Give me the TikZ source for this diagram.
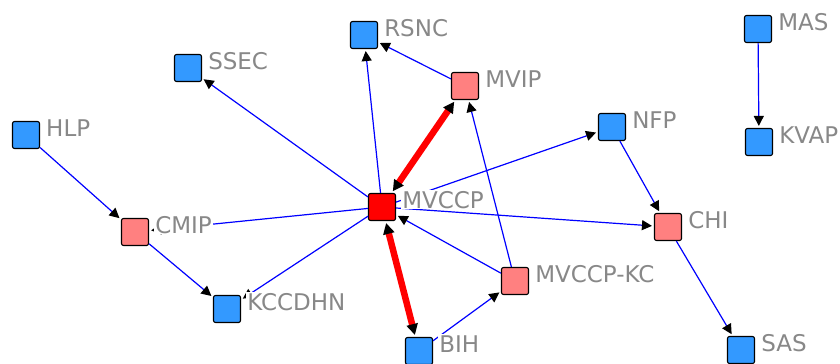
\documentclass[tikz,border=0pt]{standalone}
\usepackage{fontspec}
\setmainfont{DejaVu Sans}
\usetikzlibrary{arrows.meta}
\definecolor{nblue}{RGB}{51,153,255}
\definecolor{npink}{RGB}{255,128,128}
\definecolor{nred}{RGB}{255,0,0}
\definecolor{ltext}{RGB}{136,136,136}
\definecolor{eblue}{RGB}{0,0,255}
\tikzset{
  vbox/.style={draw=black, line width=1.1bp, rounded corners=2bp, minimum size=27bp, inner sep=0pt},
  bluebox/.style={vbox, fill=nblue},
  pinkbox/.style={vbox, fill=npink},
  redbox/.style={vbox, fill=nred},
  vlabel/.style={anchor=base west, fill=white, inner sep=1bp, text=ltext, font=\fontsize{23bp}{26bp}\selectfont},
  tip/.tip={Triangle[length=10bp, width=10bp, color=black, fill=black]},
  bigtip/.tip={Triangle[length=11bp, width=11bp, color=black, fill=black]},
  thin edge/.style={draw=eblue, line width=1.2bp, -tip, shorten >=2bp},
  thick edge/.style={draw=nred, line width=6.5bp, bigtip-bigtip, shorten >=2bp, shorten <=2bp},
}
\begin{document}
\begin{tikzpicture}[x=1bp,y=-1bp]
\useasboundingbox (0,0) rectangle (840,363);
% boxes
\node[bluebox] (HLP) at (26,135) {};
\node[pinkbox] (CMIP) at (135,232) {};
\node[bluebox] (KCCDHN) at (227,309) {};
\node[bluebox] (SSEC) at (188,68) {};
\node[bluebox] (RSNC) at (364,35) {};
\node[pinkbox] (MVIP) at (465,86) {};
\node[redbox] (MVCCP) at (382,207) {};
\node[pinkbox] (MVCCPKC) at (515,281) {};
\node[bluebox] (BIH) at (419,351) {};
\node[bluebox] (NFP) at (612,127) {};
\node[pinkbox] (CHI) at (668,227) {};
\node[bluebox] (SAS) at (741,350) {};
\node[bluebox] (MAS) at (758,29) {};
\node[bluebox] (KVAP) at (759,142) {};
% edges
\draw[thin edge] (HLP) -- (CMIP);
\draw[thin edge] (CMIP) -- (KCCDHN);
\draw[thin edge] (MVCCP) -- (CMIP);
\draw[thin edge] (MVCCP) -- (KCCDHN);
\draw[thin edge] (MVCCP) -- (SSEC);
\draw[thin edge] (MVCCP) -- (RSNC);
\draw[thin edge] (MVIP) -- (RSNC);
\draw[thin edge] (MVCCP) -- (NFP);
\draw[thin edge] (MVCCP) -- (CHI);
\draw[thin edge] (MVCCPKC) -- (MVCCP);
\draw[thin edge] (MVCCPKC) -- (MVIP);
\draw[thin edge] (BIH) -- (MVCCPKC);
\draw[thin edge] (NFP) -- (CHI);
\draw[thin edge] (CHI) -- (SAS);
\draw[thin edge] (MAS) -- (KVAP);
\draw[thick edge] (MVCCP) -- (MVIP);
\draw[thick edge] (MVCCP) -- (BIH);
% labels
\node[vlabel] (lHLP) at ([xshift=5bp,yshift=-1bp]HLP.east) {HLP};
\node[vlabel] (lCMIP) at ([xshift=5bp,yshift=-1bp]CMIP.east) {CMIP};
\node[vlabel] (lKCCDHN) at ([xshift=5bp,yshift=-1bp]KCCDHN.east) {KCCDHN};
\node[vlabel] (lSSEC) at ([xshift=5bp,yshift=-1bp]SSEC.east) {SSEC};
\node[vlabel] (lRSNC) at ([xshift=5bp,yshift=-1bp]RSNC.east) {RSNC};
\node[vlabel] (lMVIP) at ([xshift=5bp,yshift=-1bp]MVIP.east) {MVIP};
\node[vlabel] (lMVCCP) at ([xshift=5bp,yshift=-1bp]MVCCP.east) {MVCCP};
\node[vlabel] (lMVCCPKC) at ([xshift=5bp,yshift=-1bp]MVCCPKC.east) {MVCCP-KC};
\node[vlabel] (lBIH) at ([xshift=5bp,yshift=-1bp]BIH.east) {BIH};
\node[vlabel] (lNFP) at ([xshift=5bp,yshift=-1bp]NFP.east) {NFP};
\node[vlabel] (lCHI) at ([xshift=5bp,yshift=-1bp]CHI.east) {CHI};
\node[vlabel] (lSAS) at ([xshift=5bp,yshift=-1bp]SAS.east) {SAS};
\node[vlabel] (lMAS) at ([xshift=5bp,yshift=-1bp]MAS.east) {MAS};
\node[vlabel] (lKVAP) at ([xshift=5bp,yshift=-1bp]KVAP.east) {KVAP};
\end{tikzpicture}
\end{document}
